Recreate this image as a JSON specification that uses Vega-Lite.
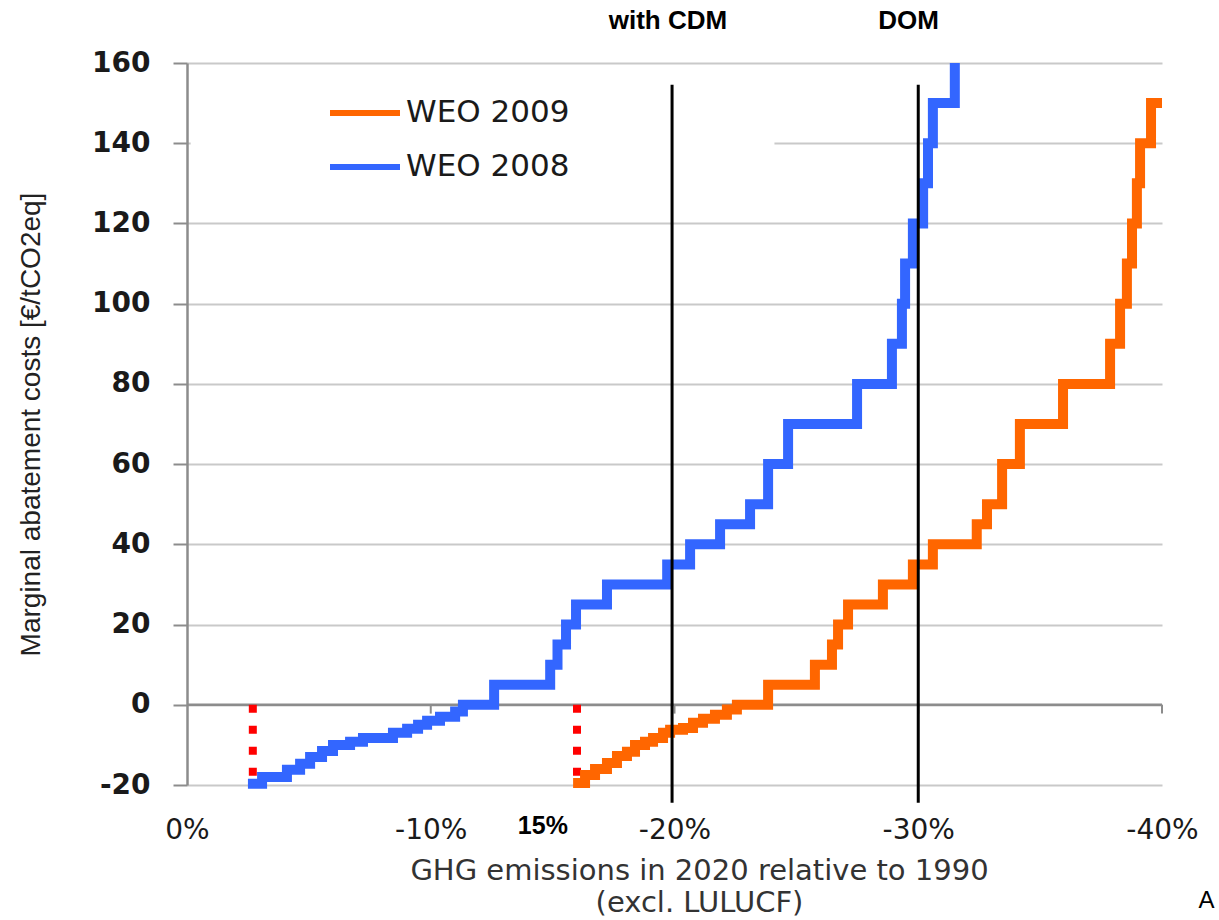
{
  "$schema": "https://vega.github.io/schema/vega-lite/v6.json",
  "autosize": {"type": "none"},
  "width": 975,
  "height": 722,
  "padding": {"left": 187, "top": 63, "right": 57, "bottom": 135},
  "background": "white",
  "datasets": {
    "curves": [
      {"weo": "WEO 2008", "reduction": -2.5, "cost": -19.7},
      {"weo": "WEO 2008", "reduction": -3.08, "cost": -18},
      {"weo": "WEO 2008", "reduction": -4.1, "cost": -16.2},
      {"weo": "WEO 2008", "reduction": -4.64, "cost": -14.7},
      {"weo": "WEO 2008", "reduction": -5.05, "cost": -13},
      {"weo": "WEO 2008", "reduction": -5.54, "cost": -11.5},
      {"weo": "WEO 2008", "reduction": -5.99, "cost": -10},
      {"weo": "WEO 2008", "reduction": -6.69, "cost": -9.2},
      {"weo": "WEO 2008", "reduction": -7.22, "cost": -8.3},
      {"weo": "WEO 2008", "reduction": -8.45, "cost": -7},
      {"weo": "WEO 2008", "reduction": -9.03, "cost": -6},
      {"weo": "WEO 2008", "reduction": -9.48, "cost": -5},
      {"weo": "WEO 2008", "reduction": -9.85, "cost": -4},
      {"weo": "WEO 2008", "reduction": -10.38, "cost": -3},
      {"weo": "WEO 2008", "reduction": -11.0, "cost": -1.7},
      {"weo": "WEO 2008", "reduction": -11.32, "cost": 0},
      {"weo": "WEO 2008", "reduction": -12.6, "cost": 5},
      {"weo": "WEO 2008", "reduction": -14.9, "cost": 10},
      {"weo": "WEO 2008", "reduction": -15.2, "cost": 15},
      {"weo": "WEO 2008", "reduction": -15.55, "cost": 20},
      {"weo": "WEO 2008", "reduction": -15.96, "cost": 25},
      {"weo": "WEO 2008", "reduction": -17.23, "cost": 30},
      {"weo": "WEO 2008", "reduction": -19.7, "cost": 35},
      {"weo": "WEO 2008", "reduction": -20.64, "cost": 40},
      {"weo": "WEO 2008", "reduction": -21.87, "cost": 45},
      {"weo": "WEO 2008", "reduction": -23.1, "cost": 50},
      {"weo": "WEO 2008", "reduction": -23.84, "cost": 60},
      {"weo": "WEO 2008", "reduction": -24.66, "cost": 70},
      {"weo": "WEO 2008", "reduction": -27.49, "cost": 80},
      {"weo": "WEO 2008", "reduction": -28.92, "cost": 90},
      {"weo": "WEO 2008", "reduction": -29.33, "cost": 100},
      {"weo": "WEO 2008", "reduction": -29.46, "cost": 110},
      {"weo": "WEO 2008", "reduction": -29.78, "cost": 120},
      {"weo": "WEO 2008", "reduction": -30.2, "cost": 130},
      {"weo": "WEO 2008", "reduction": -30.4, "cost": 140},
      {"weo": "WEO 2008", "reduction": -30.6, "cost": 150},
      {"weo": "WEO 2008", "reduction": -31.5, "cost": 160},
      {"weo": "WEO 2009", "reduction": -15.84, "cost": -19.5},
      {"weo": "WEO 2009", "reduction": -16.33, "cost": -17.5},
      {"weo": "WEO 2009", "reduction": -16.74, "cost": -16},
      {"weo": "WEO 2009", "reduction": -17.23, "cost": -14.5},
      {"weo": "WEO 2009", "reduction": -17.64, "cost": -12.8},
      {"weo": "WEO 2009", "reduction": -18.05, "cost": -11.7},
      {"weo": "WEO 2009", "reduction": -18.38, "cost": -10},
      {"weo": "WEO 2009", "reduction": -18.79, "cost": -9.2},
      {"weo": "WEO 2009", "reduction": -19.12, "cost": -8.3},
      {"weo": "WEO 2009", "reduction": -19.53, "cost": -7},
      {"weo": "WEO 2009", "reduction": -19.82, "cost": -6.2},
      {"weo": "WEO 2009", "reduction": -20.35, "cost": -5.8},
      {"weo": "WEO 2009", "reduction": -20.76, "cost": -4.5},
      {"weo": "WEO 2009", "reduction": -21.17, "cost": -3.5},
      {"weo": "WEO 2009", "reduction": -21.66, "cost": -2.5},
      {"weo": "WEO 2009", "reduction": -22.15, "cost": -1.2},
      {"weo": "WEO 2009", "reduction": -22.56, "cost": 0},
      {"weo": "WEO 2009", "reduction": -23.84, "cost": 5},
      {"weo": "WEO 2009", "reduction": -25.76, "cost": 10},
      {"weo": "WEO 2009", "reduction": -26.46, "cost": 15},
      {"weo": "WEO 2009", "reduction": -26.71, "cost": 20},
      {"weo": "WEO 2009", "reduction": -27.12, "cost": 25},
      {"weo": "WEO 2009", "reduction": -28.55, "cost": 30},
      {"weo": "WEO 2009", "reduction": -29.78, "cost": 35},
      {"weo": "WEO 2009", "reduction": -30.6, "cost": 40},
      {"weo": "WEO 2009", "reduction": -32.4, "cost": 45},
      {"weo": "WEO 2009", "reduction": -32.82, "cost": 50},
      {"weo": "WEO 2009", "reduction": -33.44, "cost": 60},
      {"weo": "WEO 2009", "reduction": -34.17, "cost": 70},
      {"weo": "WEO 2009", "reduction": -35.94, "cost": 80},
      {"weo": "WEO 2009", "reduction": -37.87, "cost": 90},
      {"weo": "WEO 2009", "reduction": -38.28, "cost": 100},
      {"weo": "WEO 2009", "reduction": -38.56, "cost": 110},
      {"weo": "WEO 2009", "reduction": -38.77, "cost": 120},
      {"weo": "WEO 2009", "reduction": -38.97, "cost": 130},
      {"weo": "WEO 2009", "reduction": -39.1, "cost": 140},
      {"weo": "WEO 2009", "reduction": -39.55, "cost": 150},
      {"weo": "WEO 2009", "reduction": -40, "cost": 150}
    ],
    "starts": [{"reduction": -2.7}, {"reduction": -16.0}],
    "targets": [{"reduction": -19.9}, {"reduction": -30.0}],
    "zeroticks": [{"reduction": -10}, {"reduction": -20}, {"reduction": -30}, {"reduction": -40}]
  },
  "layer": [
    {
      "data": {"values": [{"part": "legend backdrop"}]},
      "mark": {"type": "rect", "color": "white"},
      "encoding": {
        "x": {"datum": -0.15, "type": "quantitative", "scale": {"domain": [0, -40], "nice": false, "zero": false}},
        "x2": {"datum": -24.1},
        "y": {"datum": 130, "type": "quantitative", "scale": {"domain": [-20, 160], "nice": false, "zero": false}},
        "y2": {"datum": 157}
      }
    },
    {
      "data": {"values": [{"part": "zero line"}]},
      "mark": {"type": "rule", "color": "#8c8c8c", "strokeWidth": 2.5},
      "encoding": {"y": {"datum": 0, "type": "quantitative"}}
    },
    {
      "data": {"name": "zeroticks"},
      "mark": {"type": "rule", "color": "#8c8c8c", "strokeWidth": 2},
      "encoding": {
        "x": {"field": "reduction", "type": "quantitative"},
        "y": {"datum": 0, "type": "quantitative"},
        "y2": {"datum": -2.2}
      }
    },
    {
      "data": {"name": "starts"},
      "mark": {"type": "rule", "color": "#ff0000", "strokeWidth": 8, "strokeDash": [8, 13]},
      "encoding": {
        "x": {"field": "reduction", "type": "quantitative"},
        "y": {"datum": 0, "type": "quantitative"},
        "y2": {"datum": -20}
      }
    },
    {
      "data": {"name": "curves"},
      "mark": {"type": "line", "interpolate": "step-after", "strokeWidth": 10, "strokeJoin": "miter", "strokeCap": "butt"},
      "encoding": {
        "x": {
          "field": "reduction", "type": "quantitative",
          "axis": {
            "values": [0, -10, -20, -30, -40],
            "labelExpr": "datum.value + '%'",
            "title": ["GHG emissions in 2020 relative to 1990", "(excl. LULUCF)"]
          }
        },
        "y": {
          "field": "cost", "type": "quantitative",
          "axis": {
            "values": [-20, 0, 20, 40, 60, 80, 100, 120, 140, 160],
            "labelExpr": "'' + datum.value",
            "title": "Marginal abatement costs [€/tCO2eq]"
          }
        },
        "color": {
          "field": "weo", "type": "nominal",
          "scale": {"domain": ["WEO 2009", "WEO 2008"], "range": ["#ff6600", "#3366ff"]},
          "legend": {
            "orient": "none", "legendX": 150, "legendY": 22,
            "title": null, "padding": 0, "rowPadding": 11,
            "symbolType": "M-1.4,0H1.4", "symbolSize": 2500, "symbolStrokeWidth": 6,
            "labelFont": "DejaVu Sans", "labelFontSize": 31, "labelColor": "#1a1a1a", "labelOffset": 13,
            "labelLimit": 500
          }
        },
        "order": {"field": "reduction", "sort": "descending"}
      }
    },
    {
      "data": {"name": "targets"},
      "mark": {"type": "rule", "color": "black", "strokeWidth": 3},
      "encoding": {
        "x": {"field": "reduction", "type": "quantitative"},
        "y": {"datum": -24.4, "type": "quantitative"},
        "y2": {"datum": 154.6}
      }
    },
    {
      "data": {"values": [{"note": "with CDM"}]},
      "mark": {"type": "text", "font": "Liberation Sans", "fontWeight": "bold", "fontSize": 26, "color": "black", "align": "center", "baseline": "middle"},
      "encoding": {"text": {"field": "note"}, "x": {"datum": -19.73, "type": "quantitative"}, "y": {"datum": 170.4, "type": "quantitative"}}
    },
    {
      "data": {"values": [{"note": "DOM"}]},
      "mark": {"type": "text", "font": "Liberation Sans", "fontWeight": "bold", "fontSize": 26, "color": "black", "align": "center", "baseline": "middle"},
      "encoding": {"text": {"field": "note"}, "x": {"datum": -29.6, "type": "quantitative"}, "y": {"datum": 170.4, "type": "quantitative"}}
    },
    {
      "data": {"values": [{"note": "15%"}]},
      "mark": {"type": "text", "font": "Liberation Sans", "fontWeight": "bold", "fontSize": 25, "color": "black", "align": "center", "baseline": "middle"},
      "encoding": {"text": {"field": "note"}, "x": {"datum": -14.6, "type": "quantitative"}, "y": {"datum": -30.2, "type": "quantitative"}}
    },
    {
      "data": {"values": [{"note": "A"}]},
      "mark": {"type": "text", "font": "Liberation Sans", "fontSize": 24, "color": "black", "align": "left", "baseline": "middle"},
      "encoding": {"text": {"field": "note"}, "x": {"datum": -41.5, "type": "quantitative"}, "y": {"datum": -49.0, "type": "quantitative"}}
    }
  ],
  "config": {
    "view": {"stroke": null},
    "axisX": {
      "domain": false, "ticks": false, "tickSize": 0, "grid": false,
      "labelFont": "DejaVu Sans", "labelFontSize": 28, "labelColor": "#1a1a1a", "labelPadding": 31,
      "labelFlush": false, "labelOverlap": false,
      "titleFont": "DejaVu Sans", "titleFontSize": 29, "titleFontWeight": "normal", "titleColor": "#333333",
      "titlePadding": 12, "titleLineHeight": 32, "titleX": 512, "titleAnchor": "middle", "titleAlign": "center"
    },
    "axisY": {
      "domain": true, "domainColor": "#8c8c8c", "domainWidth": 2.5,
      "ticks": true, "tickColor": "#8c8c8c", "tickWidth": 2, "tickSize": 14,
      "grid": true, "gridColor": "#c9c9c9", "gridWidth": 2,
      "labelFont": "DejaVu Sans", "labelFontWeight": "bold", "labelFontSize": 28, "labelColor": "#1a1a1a", "labelPadding": 23,
      "labelOverlap": false, "labelFlush": false,
      "titleFont": "Liberation Sans", "titleFontSize": 28, "titleFontWeight": "normal", "titleColor": "#222222",
      "titlePadding": 46
    }
  }
}
